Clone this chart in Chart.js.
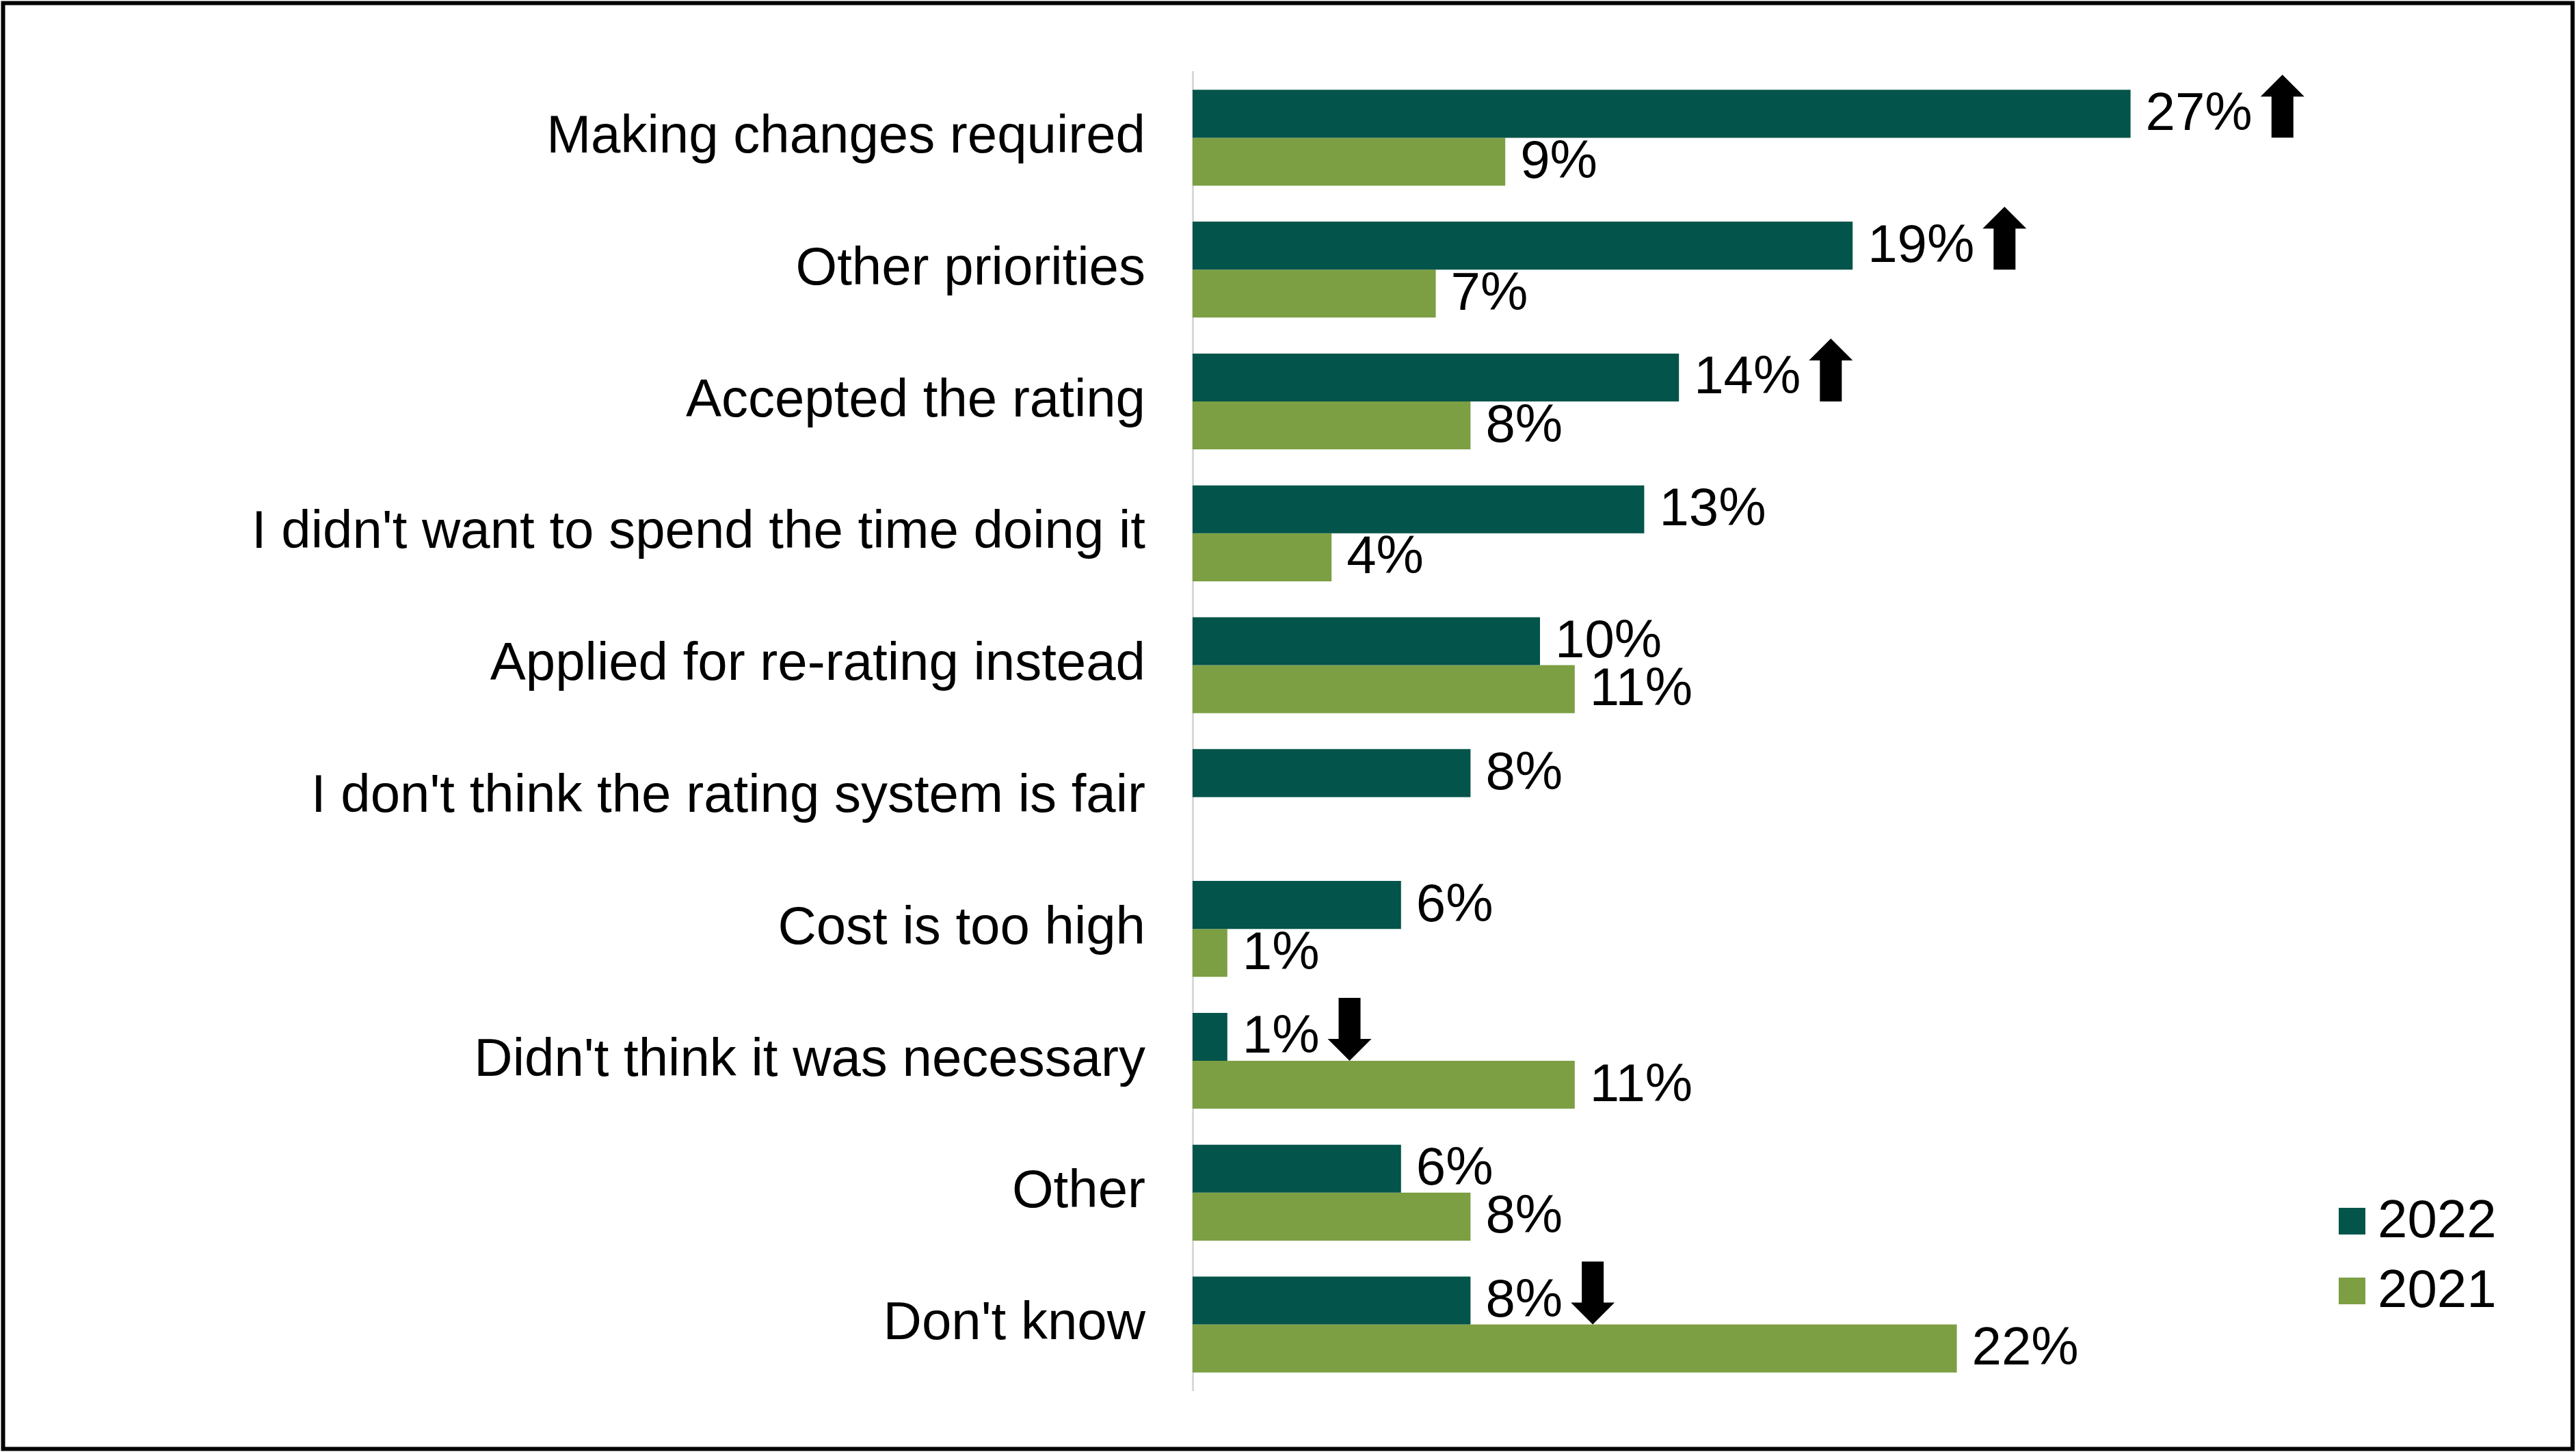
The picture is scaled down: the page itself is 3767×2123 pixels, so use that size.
<!DOCTYPE html>
<html>
<head>
<meta charset="utf-8">
<script src="https://cdn.jsdelivr.net/npm/chart.js@4/dist/chart.umd.min.js"></script>
<style>
html,body{margin:0;padding:0;background:#fff;}
#wrap{width:3767px;height:2123px;}
</style>
</head>
<body>
<div id="wrap"><canvas id="c" width="3767" height="2123"></canvas></div>
<script>
const categories = [
  "Making changes required",
  "Other priorities",
  "Accepted the rating",
  "I didn't want to spend the time doing it",
  "Applied for re-rating instead",
  "I don't think the rating system is fair",
  "Cost is too high",
  "Didn't think it was necessary",
  "Other",
  "Don't know"
];
const seriesLabels = ["2022", "2021"];
const values2022 = [27, 19, 14, 13, 10, 8, 6, 1, 6, 8];
const values2021 = [9, 7, 8, 4, 11, null, 1, 11, 8, 22];
const arrows2022 = ["up", "up", "up", null, null, null, null, "down", null, "down"];
const seriesColors = ["#03544A", "#7C9F43"];

const FONT = '"Liberation Sans", Arial, Helvetica, sans-serif';
Chart.defaults.font.family = FONT;

function drawArrow(ctx, left, cy, dir) {
  const W = 64, H = 92, shaft = 32, head = 32;
  const cx = left + W / 2;
  const top = cy - H / 2, bot = cy + H / 2;
  ctx.beginPath();
  if (dir === "up") {
    ctx.moveTo(cx, top);
    ctx.lineTo(cx + W / 2, top + head);
    ctx.lineTo(cx + shaft / 2, top + head);
    ctx.lineTo(cx + shaft / 2, bot);
    ctx.lineTo(cx - shaft / 2, bot);
    ctx.lineTo(cx - shaft / 2, top + head);
    ctx.lineTo(cx - W / 2, top + head);
  } else {
    ctx.moveTo(cx, bot);
    ctx.lineTo(cx + W / 2, bot - head);
    ctx.lineTo(cx + shaft / 2, bot - head);
    ctx.lineTo(cx + shaft / 2, top);
    ctx.lineTo(cx - shaft / 2, top);
    ctx.lineTo(cx - shaft / 2, bot - head);
    ctx.lineTo(cx - W / 2, bot - head);
  }
  ctx.closePath();
  ctx.fill();
}

const overlay = {
  id: "overlay",
  beforeDraw(chart) {
    const ctx = chart.ctx;
    ctx.save();
    ctx.fillStyle = "#fff";
    ctx.fillRect(0, 0, chart.width, chart.height);
    ctx.restore();
  },
  afterDraw(chart) {
    const ctx = chart.ctx;
    ctx.save();
    ctx.font = "78px " + FONT;
    ctx.fillStyle = "#000";
    ctx.textBaseline = "middle";
    ctx.textAlign = "left";
    chart.data.datasets.forEach((ds, di) => {
      const meta = chart.getDatasetMeta(di);
      meta.data.forEach((bar, i) => {
        const v = ds.data[i];
        if (v === null || v === undefined) return;
        const text = v + "%";
        const tx = bar.x + 22;
        ctx.fillText(text, tx, bar.y + 2);
        const dir = di === 0 ? arrows2022[i] : null;
        if (dir) {
          const w = ctx.measureText(text).width;
          drawArrow(ctx, tx + w + 12, bar.y - 11, dir);
        }
      });
    });
    // legend
    chart.data.datasets.forEach((ds, di) => {
      const y0 = 1766 + di * 102;
      ctx.fillStyle = ds.backgroundColor;
      ctx.fillRect(3420, y0, 39, 39);
      ctx.fillStyle = "#000";
      ctx.fillText(ds.label, 3477, y0 + 21);
    });
    // outer border
    ctx.lineWidth = 6;
    ctx.strokeStyle = "#000";
    ctx.strokeRect(4.5, 4.5, 3757.5, 2114);
    ctx.restore();
  }
};

const chartOptions = {
  indexAxis: "y",
  responsive: false,
  animation: false,
  devicePixelRatio: 1,
  layout: { padding: { top: 105, bottom: 90, left: 0, right: 499 } },
  plugins: { legend: { display: false }, tooltip: { enabled: false } },
  scales: {
    x: { display: false, min: 0, max: 30 },
    y: {
      grid: { display: false, drawTicks: false },
      border: { display: true, color: "#D9D9D9", width: 3 },
      ticks: { padding: 69, color: "#000", font: { family: FONT, size: 78 } },
      afterFit(scale) {
        scale.width = 1744;
        scale.paddingTop = 0;
        scale.paddingBottom = 0;
      }
    }
  }
};

const chart = new Chart(document.getElementById("c"), {
  type: "bar",
  data: {
    labels: categories,
    datasets: [
      { label: seriesLabels[0], data: values2022, backgroundColor: seriesColors[0], categoryPercentage: 0.727, barPercentage: 1.0 },
      { label: seriesLabels[1], data: values2021, backgroundColor: seriesColors[1], categoryPercentage: 0.727, barPercentage: 1.0 }
    ]
  },
  options: chartOptions,
  plugins: [overlay]
});

// fine-tune layout padding so the plot area sits where the reference has it
const targetArea = { top: 105, bottom: 2033 };
for (let k = 0; k < 4; k++) {
  const a = chart.chartArea;
  const p = chartOptions.layout.padding;
  const dt = targetArea.top - a.top;
  const db = a.bottom - targetArea.bottom;
  if (Math.abs(dt) < 0.5 && Math.abs(db) < 0.5) break;
  p.top = Math.max(0, p.top + dt);
  p.bottom = Math.max(0, p.bottom + db);
  chart.update();
}
</script>
</body>
</html>
